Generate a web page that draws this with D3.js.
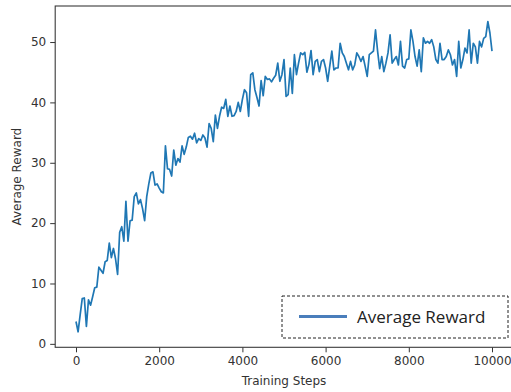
<!DOCTYPE html>
<html>
<head>
<meta charset="utf-8">
<script src="https://cdn.jsdelivr.net/npm/d3@7"></script>
<style>
  body { margin: 0; background: #fff; }
  svg { display: block; }
</style>
</head>
<body>
<script>
// training steps, every 50 steps from 0 to 10000
const stepSize = 50;
const rewards = [
  3.7, 2.0, 4.8, 7.5, 7.6, 2.9, 7.3, 6.4, 7.8, 9.3,
  9.4, 12.7, 12.2, 11.7, 13.6, 13.8, 16.7, 14.3, 15.8, 14.1,
  11.5, 18.5, 19.4, 17.0, 23.6, 17.0, 20.4, 20.5, 24.4, 25.0,
  23.2, 23.9, 22.4, 20.4, 24.4, 26.5, 28.3, 28.5, 26.3, 26.5,
  25.8, 25.2, 25.0, 32.8, 29.0, 28.9, 27.8, 32.1, 29.6, 30.7,
  30.1, 32.8, 31.4, 32.6, 34.2, 34.4, 33.9, 34.9, 33.3, 34.0,
  33.7, 34.6, 34.1, 32.6, 36.5, 35.7, 33.5, 37.9, 35.7, 37.7,
  39.2, 39.0, 40.5, 37.7, 39.4, 37.7, 37.8, 38.5, 40.0, 38.5,
  40.5, 42.1, 41.6, 37.7, 44.6, 44.9, 42.1, 40.8, 39.4, 43.6,
  41.1, 44.3, 43.8, 43.9, 43.4, 44.0, 44.5, 46.5, 43.5, 44.6,
  47.1, 41.0, 41.3, 45.7, 41.5, 47.9, 44.6, 46.5, 48.2, 47.9,
  48.3, 45.0, 46.3, 48.6, 44.6, 46.8, 47.1, 45.1, 46.8, 47.1,
  45.7, 43.5, 46.0, 48.5, 45.4, 45.7, 45.7, 49.8, 48.2, 47.6,
  46.5, 45.4, 46.8, 45.4, 46.2, 48.2, 47.6, 46.8, 47.6, 46.0,
  44.3, 47.9, 48.2, 48.5, 52.0, 48.5, 45.6, 47.6, 45.1, 46.5,
  48.2, 51.2, 46.5, 47.1, 47.6, 46.2, 50.1, 46.0, 45.7, 47.1,
  47.2, 52.0, 50.1, 47.6, 46.0, 48.7, 45.1, 50.7, 49.8, 50.1,
  49.8, 50.4, 49.2, 47.1, 46.5, 49.8, 47.1, 47.1, 47.6, 48.7,
  47.9, 46.2, 47.1, 44.3, 50.1, 45.7, 47.1, 49.0, 48.2, 52.0,
  46.5, 49.8, 49.2, 46.5, 50.1, 49.2, 50.6, 50.9, 53.4, 51.5,
  48.5
];
const xTicks = [0, 2000, 4000, 6000, 8000, 10000];
const yTicks = [0, 10, 20, 30, 40, 50];
const seriesName = "Average Reward";
const xLabel = "Training Steps";
const yLabel = "Average Reward";

const data = rewards.map((r, i) => ({ step: i * stepSize, reward: r }));

const width = 511;
const height = 392;
// axes box (right edge runs just past the picture, as in the original)
const box = { left: 55.2, right: 512.8, top: 6, bottom: 347.3 };

// matplotlib-like 5% padding around the data
const xExt = d3.extent(data, d => d.step);
const yExt = d3.extent(data, d => d.reward);
const xPad = (xExt[1] - xExt[0]) * 0.05;
const yPad = (yExt[1] - yExt[0]) * 0.05;

const xScale = d3.scaleLinear()
  .domain([xExt[0] - xPad, xExt[1] + xPad])
  .range([box.left, box.right]);
const yScale = d3.scaleLinear()
  .domain([yExt[0] - yPad, yExt[1] + yPad])
  .range([box.bottom, box.top]);

const svg = d3.select("body").append("svg")
  .attr("width", width)
  .attr("height", height)
  .attr("viewBox", [0, 0, width, height]);

const tickFont = "DejaVu Sans, sans-serif";

// x axis
const xAxis = d3.axisBottom(xScale).tickValues(xTicks).tickFormat(d3.format("d"))
  .tickSize(5).tickPadding(4).tickSizeOuter(0);
svg.append("g")
  .attr("transform", `translate(0,${box.bottom})`)
  .call(xAxis)
  .call(g => g.select(".domain").remove())
  .call(g => g.selectAll(".tick line").attr("stroke", "#333").attr("stroke-width", 1))
  .call(g => g.selectAll(".tick text").attr("fill", "#333").style("font", `12px ${tickFont}`));

// y axis
const yAxis = d3.axisLeft(yScale).tickValues(yTicks).tickFormat(d3.format("d"))
  .tickSize(5).tickPadding(4).tickSizeOuter(0);
svg.append("g")
  .attr("transform", `translate(${box.left},0)`)
  .call(yAxis)
  .call(g => g.select(".domain").remove())
  .call(g => g.selectAll(".tick line").attr("stroke", "#333").attr("stroke-width", 1))
  .call(g => g.selectAll(".tick text").attr("fill", "#333").style("font", `12px ${tickFont}`));

// spines
svg.append("rect")
  .attr("x", box.left)
  .attr("y", box.top)
  .attr("width", box.right - box.left)
  .attr("height", box.bottom - box.top)
  .attr("fill", "none")
  .attr("stroke", "#3a3a3a")
  .attr("stroke-width", 1.1);

// the line
const line = d3.line()
  .x(d => xScale(d.step))
  .y(d => yScale(d.reward));
svg.append("path")
  .datum(data)
  .attr("d", line)
  .attr("fill", "none")
  .attr("stroke", "#1f77b4")
  .attr("stroke-width", 1.7)
  .attr("stroke-linejoin", "round");

// axis labels
svg.append("text")
  .attr("x", (box.left + box.right) / 2)
  .attr("y", 385)
  .attr("text-anchor", "middle")
  .attr("fill", "#333")
  .style("font", `12px ${tickFont}`)
  .text(xLabel);

svg.append("text")
  .attr("transform", `translate(21,${(box.top + box.bottom) / 2}) rotate(-90)`)
  .attr("text-anchor", "middle")
  .attr("fill", "#333")
  .style("font", `12px ${tickFont}`)
  .text(yLabel);

// legend, a dashed box laid over the plot
const legend = svg.append("g").attr("transform", "translate(282,296)");
legend.append("rect")
  .attr("width", 226)
  .attr("height", 42)
  .attr("fill", "#fff")
  .attr("stroke", "#222")
  .attr("stroke-width", 1)
  .attr("stroke-dasharray", "3,2");
legend.append("line")
  .attr("x1", 17).attr("x2", 65)
  .attr("y1", 20.5).attr("y2", 20.5)
  .attr("stroke", "#4a7ebb")
  .attr("stroke-width", 3);
legend.append("text")
  .attr("x", 75)
  .attr("y", 26.5)
  .attr("fill", "#222")
  .style("font", "17px 'Open Sans', sans-serif")
  .text(seriesName);
</script>
</body>
</html>
